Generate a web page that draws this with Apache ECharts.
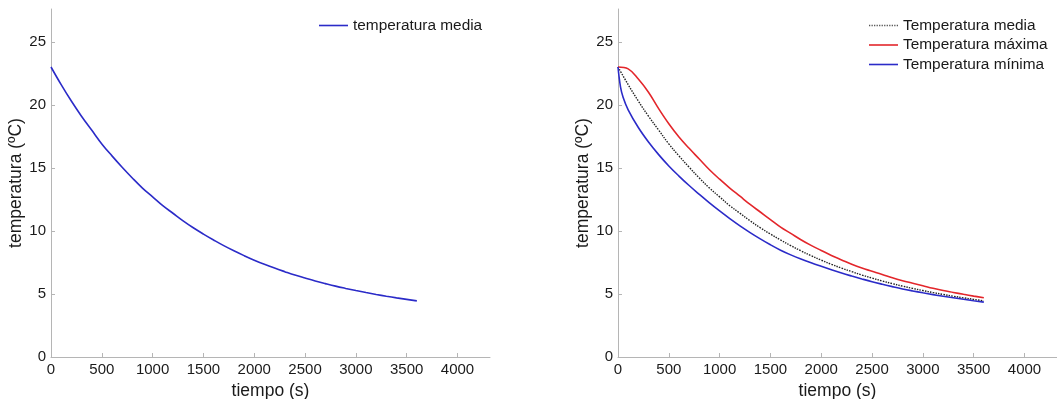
<!DOCTYPE html>
<html>
<head>
<meta charset="utf-8">
<script src="https://cdn.jsdelivr.net/npm/echarts@6/dist/echarts.min.js"></script>
<style>
html,body{margin:0;padding:0;background:#fff;}
#chart{width:1057px;height:399px;}
</style>
</head>
<body>
<div id="chart"></div>
<script>
// time (s) for mean and max curves
const timeGrid = [0,100,200,300,400,500,600,700,800,900,1000,1100,1200,1300,1400,1500,1600,1700,1800,1900,2000,2100,2200,2300,2400,2500,2600,2700,2800,2900,3000,3100,3200,3300,3400,3500,3600];
// mean temperature (°C)
const tempMean = [23.0,21.6,20.3,19.1,18.0,16.9,15.95,15.05,14.2,13.4,12.7,12.0,11.4,10.8,10.25,9.75,9.28,8.83,8.42,8.04,7.68,7.35,7.05,6.77,6.5,6.26,6.03,5.82,5.62,5.44,5.27,5.11,4.96,4.82,4.69,4.57,4.45];
// max temperature (°C)
const tempMax = [23.0,22.85,22.05,21.0,19.7,18.5,17.45,16.55,15.7,14.85,14.1,13.4,12.75,12.1,11.5,10.9,10.3,9.8,9.3,8.85,8.45,8.05,7.7,7.35,7.05,6.8,6.55,6.28,6.05,5.85,5.65,5.45,5.27,5.12,4.97,4.83,4.7];
// time (s) and min temperature (°C)
const timeMin = [0,25,50,100,200,300,400,500,600,700,800,900,1000,1100,1200,1300,1400,1500,1600,1700,1800,1900,2000,2100,2200,2300,2400,2500,2600,2700,2800,2900,3000,3100,3200,3300,3400,3500,3600];
const tempMin = [23.0,21.4,20.6,19.6,18.2,17.05,16.05,15.15,14.35,13.6,12.9,12.22,11.58,10.97,10.4,9.87,9.37,8.9,8.47,8.1,7.77,7.47,7.19,6.92,6.66,6.42,6.19,5.97,5.77,5.58,5.4,5.24,5.09,4.95,4.82,4.7,4.58,4.46,4.35];
// tick labels
const xTicks = [0,500,1000,1500,2000,2500,3000,3500,4000];
const yTicks = [0,5,10,15,20,25];

const pairs = (xs, ys) => xs.map((x, i) => [x, ys[i]]);
const FONT = '"Liberation Sans", Arial, Helvetica, sans-serif';
const BLUE = '#2b2bc8';
const RED = '#e3262b';
const DARK = '#222';

// legend icons (solid and dotted short lines)
const solidIcon = 'path://M0,0h29v1.6h-29z';
let dotted = 'path://';
for (let x = 0; x < 29; x += 2.6) dotted += 'M' + x.toFixed(1) + ',0h1.3v1.6h-1.3z';

function xAxis(gi) {
  return {
    type: 'value', gridIndex: gi, min: 0, max: 4320,
    name: 'tiempo (s)', nameLocation: 'middle', nameGap: 18,
    nameTextStyle: {fontFamily: FONT, fontSize: 17.5, color: '#1a1a1a'},
    axisLine: {lineStyle: {color: '#b5b5b5', width: 1}},
    axisTick: {inside: true, length: 4, customValues: xTicks, lineStyle: {color: '#b5b5b5'}},
    axisLabel: {customValues: xTicks, formatter: v => String(v), fontFamily: FONT, fontSize: 15, color: '#1a1a1a', margin: 5},
    splitLine: {show: false}
  };
}
function yAxis(gi) {
  return {
    type: 'value', gridIndex: gi, min: 0, max: 27.6,
    name: 'temperatura (ºC)', nameLocation: 'middle', nameGap: 24,
    nameTextStyle: {fontFamily: FONT, fontSize: 17.5, color: '#1a1a1a'},
    axisLine: {show: true, lineStyle: {color: '#b5b5b5', width: 1}},
    axisTick: {show: true, inside: true, length: 4, customValues: yTicks, lineStyle: {color: '#b5b5b5'}},
    axisLabel: {customValues: yTicks, formatter: v => String(v), fontFamily: FONT, fontSize: 15, color: '#1a1a1a', margin: 5},
    splitLine: {show: false}
  };
}

const legendText = {fontFamily: FONT, fontSize: 15.4, color: '#1a1a1a', lineHeight: 15};

const chart = echarts.init(document.getElementById('chart'), null, {renderer: 'canvas'});
chart.setOption({
  backgroundColor: '#fff',
  animation: false,
  grid: [
    {left: 51, top: 9, width: 439, height: 348, containLabel: false, outerBoundsMode: 'none'},
    {left: 618, top: 9, width: 439, height: 348, containLabel: false, outerBoundsMode: 'none'}
  ],
  xAxis: [xAxis(0), xAxis(1)],
  yAxis: [yAxis(0), yAxis(1)],
  legend: [
    {
      data: [{name: 'temperatura media', icon: solidIcon}],
      orient: 'vertical', left: 319, top: 18, padding: 0,
      itemWidth: 29, itemHeight: 1.6, itemGap: 4.5, textStyle: legendText
    },
    {
      data: [
        {name: 'Temperatura media', icon: dotted},
        {name: 'Temperatura máxima', icon: solidIcon},
        {name: 'Temperatura mínima', icon: solidIcon}
      ],
      orient: 'vertical', left: 869, top: 18, padding: 0,
      itemWidth: 29, itemHeight: 1.6, itemGap: 4.5, textStyle: legendText
    }
  ],
  series: [
    {
      name: 'temperatura media', type: 'line', xAxisIndex: 0, yAxisIndex: 0,
      data: pairs(timeGrid, tempMean), symbol: 'none', smooth: 0.4,
      lineStyle: {color: BLUE, width: 1.6}, itemStyle: {color: BLUE}
    },
    {
      name: 'Temperatura media', type: 'line', xAxisIndex: 1, yAxisIndex: 1, z: 3,
      data: pairs(timeGrid, tempMean), symbol: 'none', smooth: 0.4,
      lineStyle: {color: DARK, width: 1.4, type: [1.5, 1.2]}, itemStyle: {color: '#555'}
    },
    {
      name: 'Temperatura máxima', type: 'line', xAxisIndex: 1, yAxisIndex: 1,
      data: pairs(timeGrid, tempMax), symbol: 'none', smooth: 0.4,
      lineStyle: {color: RED, width: 1.6}, itemStyle: {color: RED}
    },
    {
      name: 'Temperatura mínima', type: 'line', xAxisIndex: 1, yAxisIndex: 1,
      data: pairs(timeMin, tempMin), symbol: 'none', smooth: 0.4,
      lineStyle: {color: BLUE, width: 1.6}, itemStyle: {color: BLUE}
    }
  ]
});
</script>
</body>
</html>
